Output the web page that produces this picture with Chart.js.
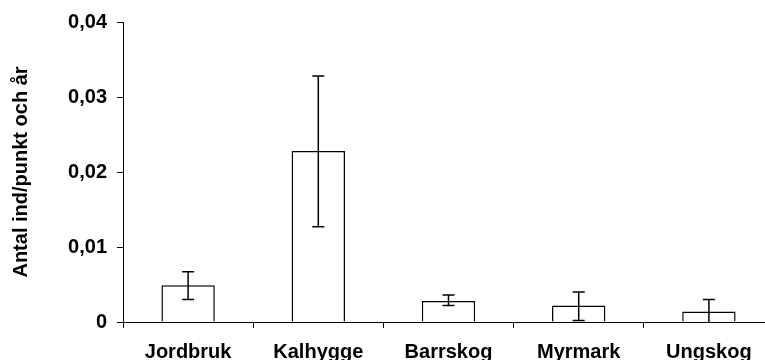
<!DOCTYPE html>
<html>
<head>
<meta charset="utf-8">
<script src="https://cdn.jsdelivr.net/npm/chart.js@4.4.0/dist/chart.umd.min.js"></script>
<style>
  html, body { margin: 0; padding: 0; background: #fff; overflow: hidden; }
  #wrap { width: 765px; height: 360px; overflow: hidden; position: relative; }
  #chart { position: absolute; left: 0; top: 0; }
</style>
</head>
<body>
<div id="wrap"><canvas id="chart" width="775" height="372"></canvas></div>
<script>
// data
var categories = ['Jordbruk', 'Kalhygge', 'Barrskog', 'Myrmark', 'Ungskog'];
var means = [0.0049, 0.0228, 0.0028, 0.0022, 0.0014];
var errLow = [0.0030, 0.0127, 0.0022, 0.0002, 0.0000];
var errHigh = [0.0067, 0.0328, 0.0036, 0.0040, 0.0030];
var yTicks = [0, 0.01, 0.02, 0.03, 0.04];

var boldFont = { family: '"Liberation Sans", Arial, sans-serif', size: 20, weight: 'bold' };

// error bars drawn with the chart's own scales
var errorBars = {
    id: 'errorBars',
    afterDatasetsDraw: function(chart) {
        var ctx = chart.ctx;
        var xs = chart.scales.x, ys = chart.scales.y;
        ctx.save();
        ctx.strokeStyle = '#000';
        ctx.lineWidth = 1.5;
        for (var i = 0; i < categories.length; i++) {
            var x = xs.getPixelForValue(i);
            var top = ys.getPixelForValue(errHigh[i]);
            var bot = ys.getPixelForValue(errLow[i]);
            ctx.beginPath();
            ctx.moveTo(x, top); ctx.lineTo(x, bot);
            ctx.moveTo(x - 6, top); ctx.lineTo(x + 6, top);
            if (errLow[i] > 0) { ctx.moveTo(x - 6, bot); ctx.lineTo(x + 6, bot); }
            ctx.stroke();
        }
        ctx.restore();
    }
};

var ctx = document.getElementById('chart').getContext('2d');
var chart = new Chart(ctx, {
    type: 'bar',
    data: {
        labels: categories,
        datasets: [{
            data: means,
            backgroundColor: '#fff',
            borderColor: '#000',
            borderWidth: 1.5,
            barPercentage: 0.41,
            categoryPercentage: 1.0
        }]
    },
    options: {
        responsive: false,
        animation: false,
        layout: { padding: { top: 22, right: 1, left: 0, bottom: 0 } },
        plugins: { legend: { display: false }, tooltip: { enabled: false } },
        scales: {
            x: {
                afterFit: function(s) { s.height = 50; },
                grid: { offset: true, drawOnChartArea: false, tickLength: 6, color: '#000', lineWidth: 1 },
                border: { color: '#000', width: 1 },
                ticks: { color: '#000', font: boldFont, padding: 12, maxRotation: 0 }
            },
            y: {
                min: 0,
                max: 0.04,
                afterFit: function(s) { s.width = 123; },
                afterBuildTicks: function(s) { s.ticks = yTicks.map(function(v) { return { value: v }; }); },
                grid: { drawOnChartArea: false, tickLength: 6, color: '#000', lineWidth: 1 },
                border: { color: '#000', width: 1 },
                ticks: {
                    color: '#000', font: boldFont, padding: 10,
                    callback: function(v) { return v === 0 ? '0' : v.toFixed(2).replace('.', ','); }
                },
                title: {
                    display: true,
                    text: 'Antal ind/punkt och år',
                    color: '#000',
                    font: boldFont,
                    padding: { top: 9, bottom: 0 }
                }
            }
        }
    },
    plugins: [errorBars]
});
</script>
</body>
</html>
